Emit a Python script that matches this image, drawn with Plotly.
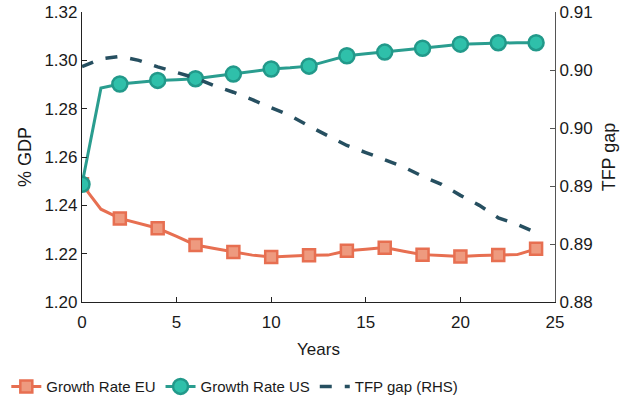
import plotly.graph_objects as go

years = list(range(0, 25))
growth_eu = [1.2487, 1.2384, 1.2346, 1.2326, 1.2305, 1.2272, 1.2236, 1.2221, 1.2207, 1.2194,
             1.2186, 1.2190, 1.2193, 1.2194, 1.2212, 1.2218, 1.2225, 1.2210, 1.2196, 1.2192,
             1.2188, 1.2192, 1.2195, 1.2196, 1.2220]
growth_us = [1.2487, 1.2885, 1.2902, 1.2909, 1.2917, 1.2920, 1.2924, 1.2934, 1.2943, 1.2953,
             1.2964, 1.2969, 1.2976, 1.2998, 1.3019, 1.3027, 1.3034, 1.3042, 1.3050, 1.3058,
             1.3067, 1.3070, 1.3073, 1.3073, 1.3073]
tfp_gap = [0.90436, 0.90515, 0.90541, 0.90500, 0.90433, 0.90371, 0.90317, 0.90237, 0.90170, 0.90093,
           0.90010, 0.89928, 0.89820, 0.89717, 0.89619, 0.89546, 0.89474, 0.89397, 0.89300, 0.89217,
           0.89103, 0.89000, 0.88871, 0.88804, 0.88717]
x_ticks = [0, 5, 10, 15, 20, 25]
left_ticks = [1.20, 1.22, 1.24, 1.26, 1.28, 1.30, 1.32]
right_ticks = [0.88, 0.886, 0.892, 0.898, 0.904, 0.91]

EU_LINE = "#e76f51"
EU_FILL = "#ee9a7f"
US_LINE = "#2a9d8f"
US_FILL = "#2fc0aa"
US_EDGE = "#22998a"
TFP = "#264f60"

marker_on = [0 if y % 2 else 1 for y in years]

fig = go.Figure()

fig.add_trace(go.Scatter(
    x=years, y=growth_eu, mode="lines+markers", showlegend=False,
    line=dict(color=EU_LINE, width=3),
    marker=dict(symbol="square", size=[12 * s for s in marker_on], color=EU_FILL, opacity=1,
                line=dict(color=EU_LINE, width=2.5)),
    yaxis="y"))
fig.add_trace(go.Scatter(
    x=years, y=growth_us, mode="lines+markers", showlegend=False,
    line=dict(color=US_LINE, width=3),
    marker=dict(symbol="circle", size=[15 * s for s in marker_on], color=US_FILL, opacity=1,
                line=dict(color=US_EDGE, width=2.5)),
    yaxis="y"))
# legend proxies
fig.add_trace(go.Scatter(
    x=[None], y=[None], mode="lines+markers", name="Growth Rate EU",
    line=dict(color=EU_LINE, width=3),
    marker=dict(symbol="square", size=12, color=EU_FILL, opacity=1, line=dict(color=EU_LINE, width=2.5))))
fig.add_trace(go.Scatter(
    x=[None], y=[None], mode="lines+markers", name="Growth Rate US",
    line=dict(color=US_LINE, width=3),
    marker=dict(symbol="circle", size=15, color=US_FILL, opacity=1, line=dict(color=US_EDGE, width=2.5))))
fig.add_trace(go.Scatter(
    x=years, y=tfp_gap, mode="lines", name="TFP gap (RHS)",
    line=dict(color=TFP, width=3.5, dash="12px,13px"),
    yaxis="y2"))

font_family = "Liberation Sans, Arial, sans-serif"

fig.update_layout(
    width=625, height=397,
    margin=dict(l=82, r=70, t=12, b=95, autoexpand=False),
    paper_bgcolor="white", plot_bgcolor="white",
    font=dict(family=font_family, size=17, color="#1a1a1a"),
    xaxis=dict(
        range=[0, 25], tickvals=x_ticks, ticktext=[str(v) for v in x_ticks],
        showgrid=False, zeroline=False, showline=True, linecolor="#222222", linewidth=1.2,
        ticks="inside", ticklen=5, tickcolor="#222222", automargin=False,
        ticklabelstandoff=4,
        title=dict(text="Years", font=dict(size=17), standoff=12),
    ),
    yaxis=dict(
        range=[1.20, 1.32], tickvals=left_ticks, tickformat=".2f",
        showgrid=False, zeroline=False, showline=True, linecolor="#222222", linewidth=1.2,
        ticks="inside", ticklen=5, tickcolor="#222222", automargin=False,
        title=dict(text="% GDP", font=dict(size=18), standoff=8),
    ),
    yaxis2=dict(
        range=[0.88, 0.91], tickvals=right_ticks, tickformat=".2f",
        overlaying="y", side="right",
        showgrid=False, zeroline=False, showline=True, linecolor="#555555", linewidth=1.2,
        ticks="inside", ticklen=5, tickcolor="#555555", automargin=False,
        title=dict(text="TFP gap", font=dict(size=18), standoff=10),
    ),
    legend=dict(
        orientation="h", x=-0.16, xanchor="left", y=-0.235, yanchor="top",
        font=dict(size=15), bgcolor="rgba(0,0,0,0)", traceorder="normal",
    ),
)

fig.write_html("out.html")
